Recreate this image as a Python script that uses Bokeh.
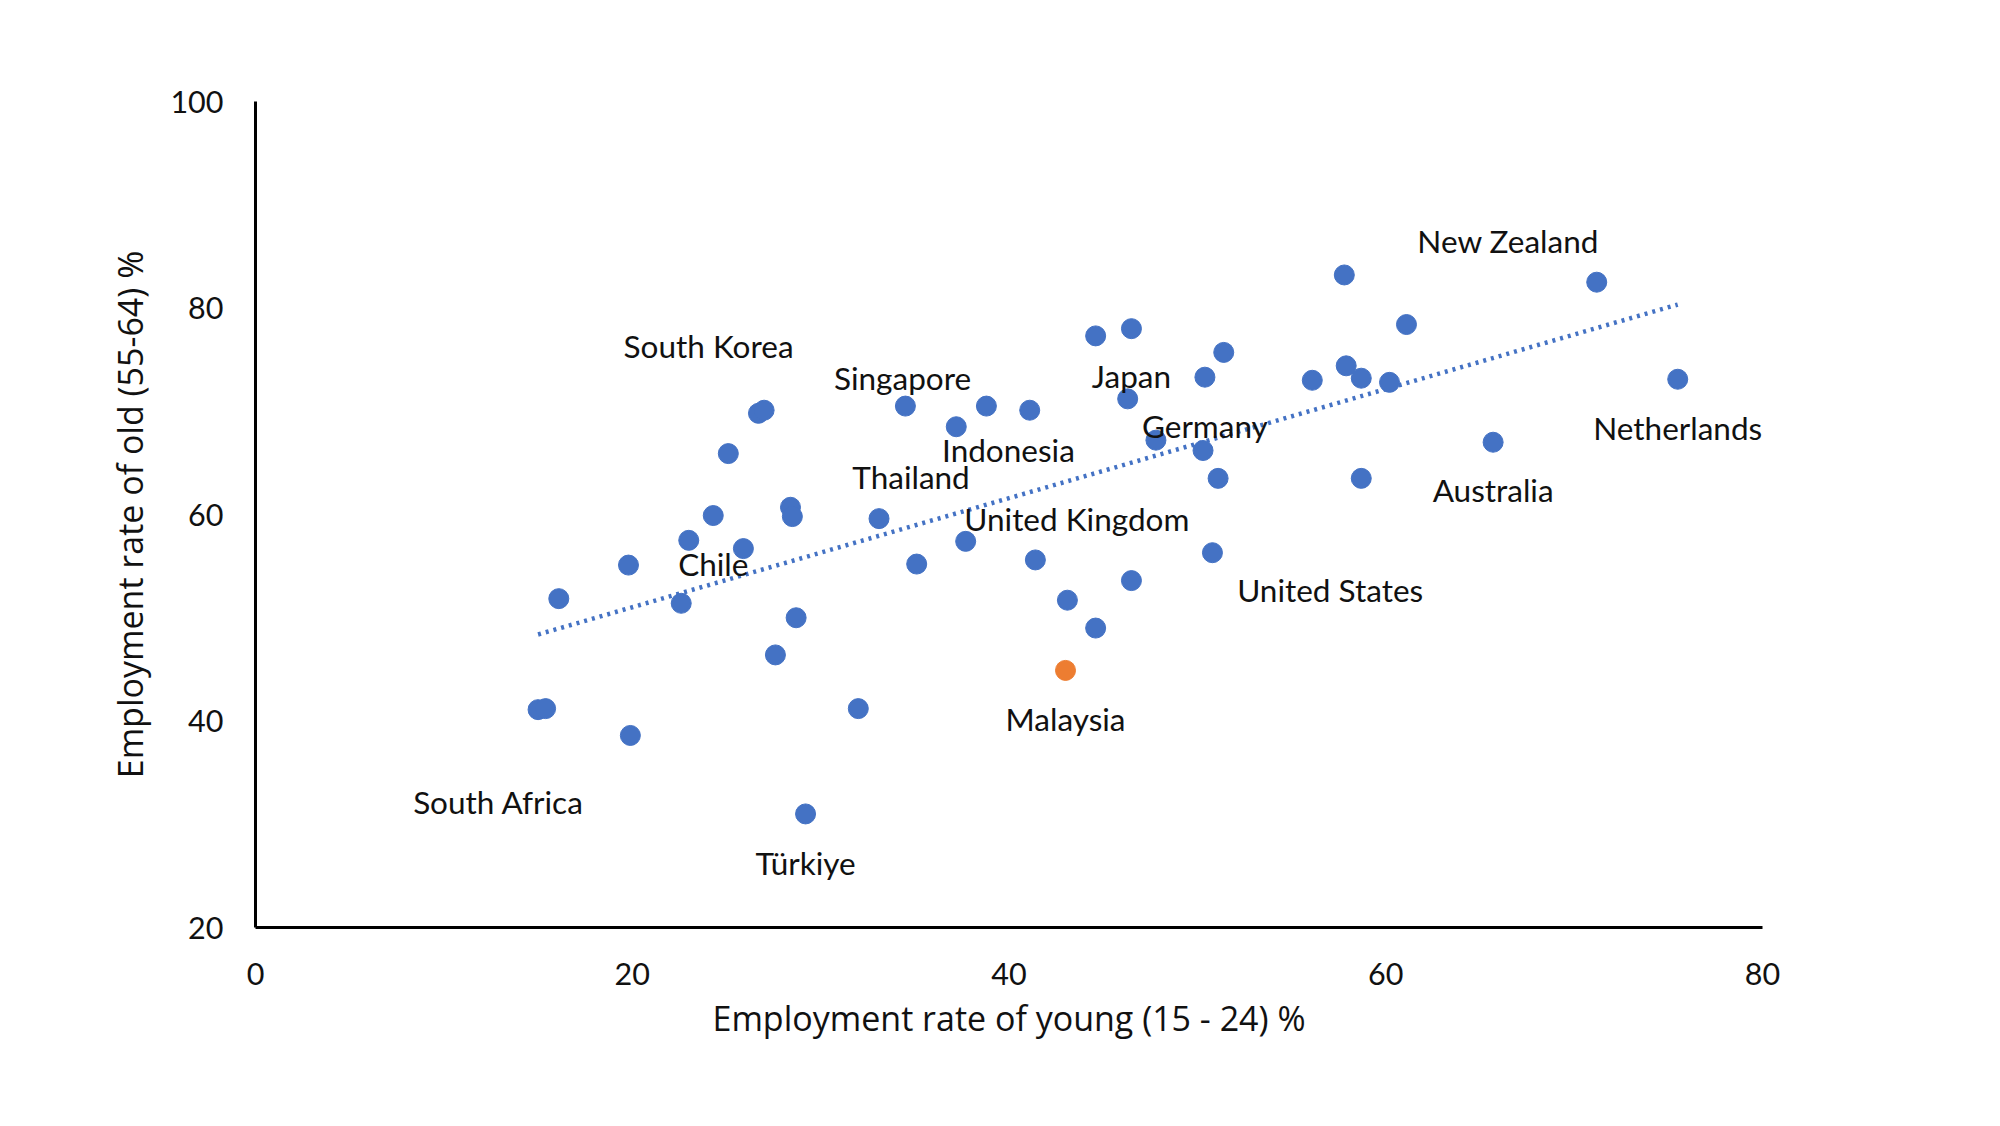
import numpy as np
from bokeh.plotting import figure
from bokeh.models import Range1d, ColumnDataSource, FixedTicker, LabelSet
from bokeh.core.properties import value
from bokeh.embed import file_html
from bokeh.resources import INLINE

# Employment rate of young (15-24) % and of old (55-64) %, blue series
young = [16.1, 15.0, 15.4, 19.8, 19.9, 22.6, 23.0, 24.3, 25.1, 25.9, 26.7, 27.0,
         27.6, 28.4, 28.5, 28.7, 29.2, 32.0, 33.1, 34.5, 35.1, 37.2, 37.7, 38.8,
         41.1, 41.4, 43.1, 44.6, 44.6, 46.5, 46.3, 46.5, 47.8, 50.3, 50.4, 50.8,
         51.1, 51.4, 56.1, 57.8, 57.9, 58.7, 58.7, 60.2, 61.1, 65.7, 71.2, 75.5]
old = [51.85, 41.1, 41.2, 55.1, 38.6, 51.4, 57.5, 59.9, 65.9, 56.7, 69.8, 70.1,
       46.4, 60.7, 59.8, 50.0, 31.0, 41.2, 59.6, 70.5, 55.2, 68.5, 57.4, 70.5,
       70.1, 55.6, 51.7, 77.3, 49.0, 78.0, 71.2, 53.6, 67.2, 66.2, 73.3, 56.3,
       63.5, 75.7, 73.0, 83.2, 74.4, 73.2, 63.5, 72.8, 78.4, 67.0, 82.5, 73.1]

# Highlighted country (orange)
malaysia_young = [43.0]
malaysia_old = [44.9]

# Country names shown on the chart and where their text sits (data units)
label_names = ["New Zealand", "South Korea", "Singapore", "Japan", "Germany",
               "Netherlands", "Indonesia", "Thailand", "Australia",
               "United Kingdom", "Chile", "United States", "Malaysia",
               "South Africa", "Türkiye"]
label_x = [66.5, 24.05, 34.35, 46.5, 50.4, 75.5, 39.97, 34.8, 65.7, 43.6,
           24.3, 57.05, 43.0, 12.9, 29.2]
label_y = [86.5, 76.3, 73.2, 73.45, 68.6, 68.4, 66.2, 63.6, 62.4, 59.6,
           55.2, 52.7, 40.2, 32.2, 26.2]

x_ticks = [0, 20, 40, 60, 80]
y_ticks = [20, 40, 60, 80, 100]

BLUE = "#4472C4"
ORANGE = "#ED7D31"

p = figure(width=1984, height=1108, output_backend="svg", toolbar_location=None,
           x_range=Range1d(0, 80), y_range=Range1d(20, 100),
           min_border_left=255, min_border_right=222,
           min_border_top=101, min_border_bottom=181)
p.outline_line_color = None
p.grid.visible = False
p.background_fill_color = "white"
p.border_fill_color = "white"

# linear trend line through all points
all_x = np.array(young + malaysia_young)
all_y = np.array(old + malaysia_old)
slope, intercept = np.polyfit(all_x, all_y, 1)
tx = np.array([all_x.min(), all_x.max()])
p.line(tx, slope * tx + intercept, line_color=BLUE, line_width=4.5,
       line_dash="3 5")

p.scatter(young, old, size=20, fill_color=BLUE, line_color=BLUE)
p.scatter(malaysia_young, malaysia_old, size=20, fill_color=ORANGE,
          line_color=ORANGE)

lab_src = ColumnDataSource(dict(x=label_x, y=label_y, t=label_names))
labels = LabelSet(x="x", y="y", text="t", source=lab_src,
                  text_align="center", text_baseline="middle",
                  text_font=value("Lato"), text_font_size="31.5px",
                  text_color="#111111")
p.add_layout(labels)

for ax in (p.xaxis[0], p.yaxis[0]):
    ax.axis_line_color = "black"
    ax.axis_line_width = 3
    ax.major_tick_in = 0
    ax.major_tick_out = 0
    ax.minor_tick_in = 0
    ax.minor_tick_out = 0
    ax.major_label_text_font = "Lato"
    ax.major_label_text_font_size = "30.5px"
    ax.major_label_text_color = "#111111"
    ax.axis_label_text_font = "Open Sans"
    ax.axis_label_text_font_size = "34px"
    ax.axis_label_text_font_style = "normal"
    ax.axis_label_text_color = "#111111"

p.xaxis[0].ticker = FixedTicker(ticks=x_ticks)
p.yaxis[0].ticker = FixedTicker(ticks=y_ticks)
p.xaxis[0].axis_label = "Employment rate of young (15 - 24) %"
p.yaxis[0].axis_label = "Employment rate of old (55-64) %"
p.xaxis[0].major_label_standoff = 35
p.xaxis[0].axis_label_standoff = 7
p.yaxis[0].major_label_standoff = 32
p.yaxis[0].axis_label_standoff = 14

open("out.html", "w").write(file_html(p, INLINE))
